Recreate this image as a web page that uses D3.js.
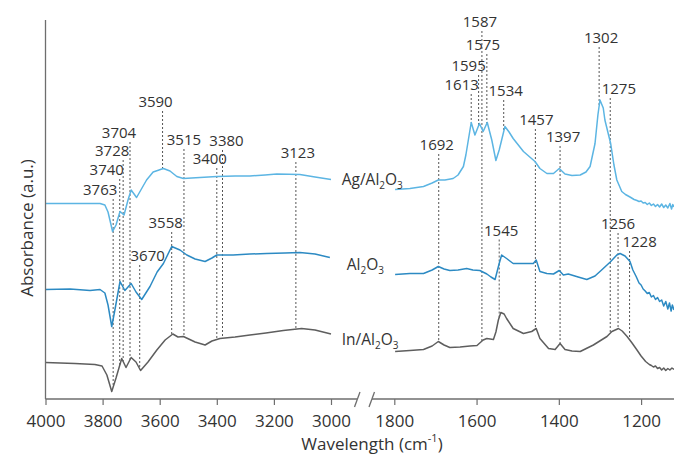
<!DOCTYPE html>
<html><head><meta charset="utf-8">
<script src="https://cdn.jsdelivr.net/npm/d3@7"></script>
<style>body{margin:0;background:#fff;} svg{display:block;font-family:"Open Sans",sans-serif;}</style>
</head><body><svg id="c" width="674" height="456"></svg>
<script>
// ---- data: wavenumber (cm-1), absorbance (a.u., offset stacked) ----
const highTicks = [4000, 3800, 3600, 3400, 3200, 3000];
const lowTicks = [1800, 1600, 1400, 1200];

const agHigh = [[4000,0.391],[3809,0.391],[3792,0.388],[3781,0.374],[3765,0.335],[3753,0.348],[3739,0.375],[3725,0.368],[3711,0.398],[3700,0.418],[3681,0.403],[3666,0.418],[3646,0.438],[3623,0.454],[3587,0.461],[3564,0.456],[3540,0.445],[3517,0.441],[3459,0.443],[3400,0.445],[3336,0.446],[3284,0.446],[3231,0.448],[3190,0.450],[3109,0.449],[3056,0.444],[3000,0.439]];
const alHigh = [[4000,0.219],[3914,0.220],[3844,0.217],[3809,0.219],[3792,0.212],[3781,0.188],[3768,0.145],[3757,0.178],[3739,0.235],[3722,0.217],[3700,0.231],[3683,0.214],[3663,0.199],[3634,0.225],[3609,0.254],[3587,0.271],[3558,0.305],[3529,0.298],[3505,0.288],[3476,0.280],[3441,0.275],[3417,0.282],[3400,0.288],[3343,0.288],[3284,0.290],[3225,0.291],[3161,0.292],[3109,0.293],[3056,0.290],[3004,0.283]];
const inHigh = [[4000,0.073],[3897,0.071],[3827,0.069],[3802,0.066],[3785,0.048],[3768,0.015],[3753,0.042],[3733,0.081],[3718,0.063],[3700,0.083],[3683,0.074],[3667,0.057],[3641,0.074],[3610,0.098],[3581,0.118],[3554,0.130],[3536,0.124],[3517,0.125],[3476,0.114],[3441,0.108],[3417,0.116],[3389,0.121],[3336,0.124],[3284,0.128],[3228,0.132],[3167,0.137],[3103,0.141],[3056,0.138],[3000,0.130]];

const agLow = [[1798,0.419],[1762,0.421],[1729,0.425],[1708,0.432],[1693,0.438],[1677,0.438],[1657,0.441],[1645,0.448],[1632,0.465],[1626,0.488],[1620,0.518],[1613,0.553],[1604,0.528],[1593,0.551],[1584,0.535],[1574,0.553],[1563,0.518],[1553,0.477],[1545,0.498],[1539,0.518],[1531,0.545],[1521,0.534],[1511,0.521],[1486,0.495],[1458,0.475],[1446,0.461],[1429,0.451],[1413,0.451],[1399,0.461],[1385,0.450],[1368,0.447],[1348,0.448],[1334,0.454],[1324,0.465],[1312,0.511],[1305,0.568],[1300,0.598],[1292,0.582],[1288,0.558],[1274,0.511],[1266,0.468],[1259,0.438],[1247,0.415],[1238,0.409],[1227,0.404],[1217,0.399],[1210,0.397],[1205,0.395],[1200,0.396],[1195,0.392],[1190,0.393],[1185,0.389],[1180,0.392],[1175,0.387],[1170,0.390],[1165,0.385],[1160,0.389],[1155,0.384],[1150,0.390],[1145,0.383],[1140,0.388],[1135,0.382],[1130,0.391],[1126,0.380],[1123,0.389],[1120,0.384]];
const alLow = [[1798,0.249],[1762,0.251],[1729,0.251],[1708,0.258],[1693,0.265],[1679,0.260],[1665,0.257],[1645,0.258],[1624,0.261],[1609,0.258],[1592,0.257],[1575,0.250],[1565,0.244],[1555,0.239],[1545,0.271],[1539,0.288],[1527,0.281],[1511,0.271],[1494,0.271],[1462,0.271],[1455,0.278],[1446,0.255],[1429,0.251],[1413,0.250],[1399,0.257],[1389,0.248],[1377,0.250],[1353,0.244],[1332,0.239],[1312,0.246],[1292,0.261],[1275,0.274],[1259,0.288],[1251,0.291],[1239,0.286],[1227,0.275],[1220,0.258],[1212,0.245],[1205,0.232],[1200,0.228],[1195,0.220],[1190,0.216],[1185,0.211],[1180,0.213],[1175,0.204],[1170,0.207],[1165,0.199],[1160,0.203],[1155,0.195],[1150,0.198],[1145,0.186],[1140,0.195],[1135,0.180],[1131,0.192],[1127,0.176],[1124,0.188],[1120,0.178]];
const inLow = [[1798,0.095],[1762,0.097],[1729,0.099],[1708,0.106],[1693,0.115],[1679,0.108],[1665,0.103],[1640,0.104],[1616,0.106],[1599,0.107],[1584,0.118],[1575,0.121],[1559,0.119],[1553,0.134],[1547,0.158],[1541,0.173],[1533,0.170],[1527,0.161],[1511,0.141],[1486,0.131],[1466,0.135],[1455,0.141],[1446,0.121],[1425,0.101],[1409,0.099],[1397,0.111],[1385,0.099],[1368,0.096],[1348,0.095],[1316,0.108],[1283,0.125],[1271,0.135],[1255,0.141],[1246,0.136],[1234,0.125],[1222,0.112],[1210,0.098],[1200,0.086],[1189,0.075],[1180,0.069],[1175,0.067],[1170,0.064],[1165,0.066],[1160,0.061],[1155,0.063],[1150,0.058],[1145,0.062],[1140,0.057],[1135,0.061],[1130,0.058],[1125,0.062],[1120,0.059]];

const seriesNames = ["Ag/Al2O3", "Al2O3", "In/Al2O3"];
const seriesColors = ["#5cb5e3", "#2c8ac3", "#5e5e5e"];

// peak annotations
const peakWn = [3763,3740,3728,3704,3670,3590,3558,3515,3400,3380,3123,1692,1613,1595,1587,1575,1534,1545,1457,1397,1302,1275,1256,1228];
const peakSeries = ["In","In","In","In","In","Ag","In","In","In","In","In","In","Ag","Ag","In","Ag","Ag","In","In","In","Ag","In","In","In"];
// label layout: [horizontal shift px, label baseline level a.u.]
const peakLayout = [[-13,0.408],[-13,0.448],[-11,0.486],[-11,0.522],[8,0.276],[-7,0.584],[-6,0.342],[0,0.508],[-7,0.470],[4,0.506],[2,0.482],[-2,0.498],[-9.5,0.618],[-10,0.656],[-2,0.744],[-4,0.698],[2,0.606],[2,0.327],[1,0.548],[3,0.514],[2,0.712],[8.6,0.610],[0,0.340],[10,0.304]];

// ---- drawing ----
const svg = d3.select("#c");
const xHigh = d3.scaleLinear().domain([4000, 3000]).range([45.5, 331]);
const xLow = d3.scaleLinear().domain([1800, 1120]).range([394.3, 674]);
const y = d3.scaleLinear().domain([0, 0.758]).range([399, 20]);
const axisColor = "#6e6e6e", textColor = "#333";

const mkLine = sc => d3.line().x(d => sc(d[0])).y(d => y(d[1]));
const highSets = [agHigh, alHigh, inHigh];
const lowSets = [agLow, alLow, inLow];

function valueAt(data, wn) {
  for (let i = 0; i < data.length - 1; i++) {
    const a = data[i], b = data[i + 1];
    if (wn <= a[0] && wn >= b[0]) {
      const t = (a[0] - wn) / (a[0] - b[0]);
      return a[1] + t * (b[1] - a[1]);
    }
  }
  return data[data.length - 1][1];
}
const byKey = { Ag: [agHigh, agLow], Al: [alHigh, alLow], In: [inHigh, inLow] };

// dashed markers + labels
const gPeaks = svg.append("g");
peakWn.forEach((wn, i) => {
  const high = wn > 2500;
  const sc = high ? xHigh : xLow;
  const data = byKey[peakSeries[i]][high ? 0 : 1];
  const x = sc(wn);
  const ly = y(peakLayout[i][1]);
  gPeaks.append("line")
    .attr("x1", x).attr("x2", x)
    .attr("y1", ly + 4).attr("y2", y(valueAt(data, wn)))
    .attr("stroke", "#555").attr("stroke-width", 1)
    .attr("stroke-dasharray", "2,2");
  gPeaks.append("text")
    .attr("x", x + peakLayout[i][0]).attr("y", ly)
    .attr("text-anchor", "middle")
    .attr("font-size", 15).attr("fill", textColor)
    .text(wn);
});

// curves
highSets.forEach((d, i) => svg.append("path").datum(d).attr("d", mkLine(xHigh))
  .attr("fill", "none").attr("stroke", seriesColors[i]).attr("stroke-width", 1.5).attr("stroke-linejoin", "round"));
lowSets.forEach((d, i) => svg.append("path").datum(d).attr("d", mkLine(xLow))
  .attr("fill", "none").attr("stroke", seriesColors[i]).attr("stroke-width", 1.5).attr("stroke-linejoin", "round"));

// axes
function styleAxis(g) {
  g.select(".domain").remove();
  g.selectAll(".tick line").attr("stroke", axisColor).attr("stroke-width", 1.2);
  g.selectAll(".tick text").attr("fill", textColor).attr("font-size", 17).attr("font-family", "Open Sans, sans-serif");
}
svg.append("g").attr("transform", "translate(0,399)")
  .call(d3.axisBottom(xHigh).tickValues(highTicks).tickSize(6).tickPadding(10).tickFormat(d3.format("d")))
  .call(styleAxis);
svg.append("g").attr("transform", "translate(0,399)")
  .call(d3.axisBottom(xLow).tickValues(lowTicks).tickSize(6).tickPadding(10).tickFormat(d3.format("d")))
  .call(styleAxis);

const gAx = svg.append("g").attr("stroke", axisColor).attr("stroke-width", 1.3);
gAx.append("line").attr("x1", xHigh(4000)).attr("x2", 357).attr("y1", 399).attr("y2", 399);
gAx.append("line").attr("x1", 372).attr("x2", 674).attr("y1", 399).attr("y2", 399);
gAx.append("line").attr("x1", 354.5).attr("x2", 360).attr("y1", 407).attr("y2", 392);
gAx.append("line").attr("x1", 369).attr("x2", 374.5).attr("y1", 407).attr("y2", 392);
gAx.append("line").attr("x1", xHigh(4000)).attr("x2", xHigh(4000)).attr("y1", y(0.758)).attr("y2", 399);

// axis titles
const xt = svg.append("text").attr("x", 372).attr("y", 450).attr("text-anchor", "middle")
  .attr("font-size", 17).attr("fill", textColor);
xt.append("tspan").text("Wavelength (cm");
xt.append("tspan").attr("font-size", 11).attr("dy", -8).text("-1");
xt.append("tspan").attr("dy", 8).text(")");

svg.append("text").attr("transform", "translate(27,228) rotate(-90)")
  .attr("text-anchor", "middle").attr("dy", "0.35em")
  .attr("font-size", 17).attr("fill", textColor).text("Absorbance (a.u.)");

// series labels with subscripts
const labelLevels = [0.428, 0.258, 0.108];
const labelX = [341.7, 346.7, 341.7];
seriesNames.forEach((name, i) => {
  const t = svg.append("text").attr("x", labelX[i]).attr("y", y(labelLevels[i]))
    .attr("font-size", 15.5).attr("fill", textColor);
  const parts = name.match(/[A-Za-z\/]+|\d/g);
  let sub = false;
  parts.forEach(p => {
    if (/\d/.test(p)) { t.append("tspan").attr("font-size", 10).attr("dy", sub ? 0 : 4).text(p); sub = true; }
    else { t.append("tspan").attr("dy", sub ? -4 : 0).text(p); sub = false; }
  });
});
</script></body></html>
